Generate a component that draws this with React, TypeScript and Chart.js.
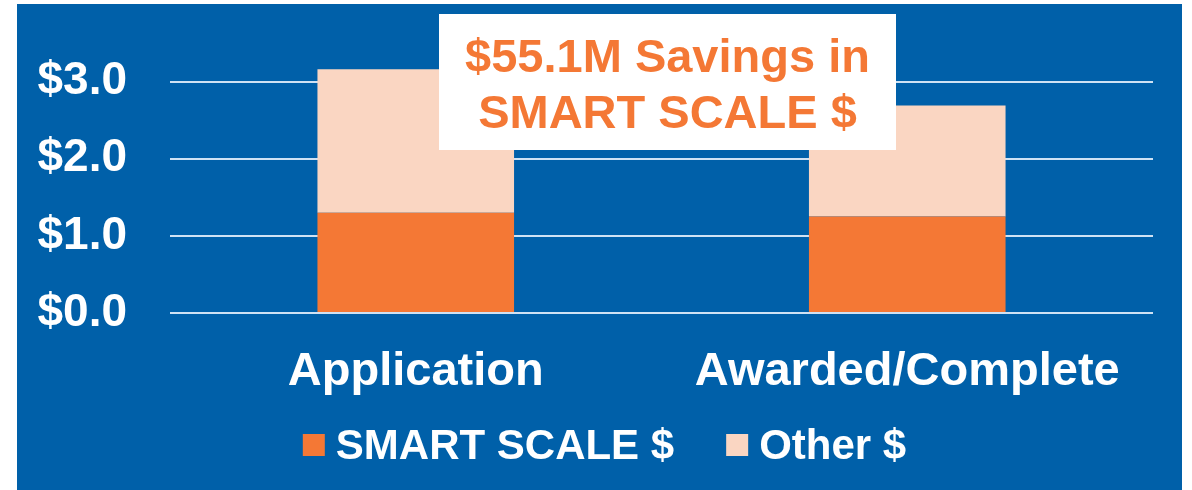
import React, { useEffect, useRef } from 'react';
import { Chart, registerables } from 'chart.js';

Chart.register(...registerables);

// ---- data ----
const categories = ['Application', 'Awarded/Complete'];
const seriesNames = ['SMART SCALE $', 'Other $'];
const smartScaleValues = [1.3, 1.25];
const otherValues = [1.86, 1.44];
const yTickValues = [0, 1, 2, 3];
const yTickLabels = ['$0.0', '$1.0', '$2.0', '$3.0'];
const calloutLines = ['$55.1M Savings in', 'SMART SCALE $'];

// ---- style ----
const BLUE = '#0060A9';
const ORANGE = '#F47835';
const PEACH = '#FAD6C2';
const GRID = '#CFE2F4';
const FONT = '"Liberation Sans", Arial, Helvetica, sans-serif';

const calloutPlugin = {
  id: 'callout',
  afterDraw(chart: any) {
    const ctx = chart.ctx;
    ctx.save();
    ctx.fillStyle = '#FFFFFF';
    ctx.fillRect(422, 10, 457, 136);
    ctx.fillStyle = ORANGE;
    ctx.font = `bold 47px ${FONT}`;
    ctx.textAlign = 'center';
    ctx.textBaseline = 'alphabetic';
    ctx.fillText(calloutLines[0], 650.5, 68);
    ctx.fillText(calloutLines[1], 650.5, 124);
    ctx.restore();
  },
};

const legendPlugin = {
  id: 'customLegend',
  afterDraw(chart: any) {
    const ctx = chart.ctx;
    const datasets = chart.data.datasets;
    const box = 22;
    const gap = 11;
    const itemGap = 52;
    ctx.save();
    ctx.font = `bold 42px ${FONT}`;
    const widths = datasets.map((d: any) => box + gap + ctx.measureText(d.label).width);
    const total = widths.reduce((a: number, b: number) => a + b, 0) + itemGap * (datasets.length - 1);
    let x = chart.width / 2 + 5 - total / 2;
    const baseline = 455;
    datasets.forEach((d: any, i: number) => {
      ctx.fillStyle = d.backgroundColor;
      ctx.fillRect(x, 430, box, box);
      ctx.fillStyle = '#FFFFFF';
      ctx.textAlign = 'left';
      ctx.textBaseline = 'alphabetic';
      ctx.fillText(d.label, x + box + gap, baseline);
      x += widths[i] + itemGap;
    });
    ctx.restore();
  },
};

export default function App() {
  const canvasRef = useRef<HTMLCanvasElement | null>(null);

  useEffect(() => {
    document.body.style.margin = '0';
    const canvas = canvasRef.current;
    if (!canvas) return;
    const chart = new Chart(canvas, {
      type: 'bar',
      data: {
        labels: categories,
        datasets: [
          {
            label: seriesNames[0],
            data: smartScaleValues,
            backgroundColor: ORANGE,
            borderWidth: 0,
            barPercentage: 0.4,
            categoryPercentage: 1,
          },
          {
            label: seriesNames[1],
            data: otherValues,
            backgroundColor: PEACH,
            borderWidth: 0,
            barPercentage: 0.4,
            categoryPercentage: 1,
          },
        ],
      },
      options: {
        responsive: false,
        animation: false,
        devicePixelRatio: 1,
        layout: { padding: { left: 20, right: 29, top: 39, bottom: 0 } },
        plugins: {
          legend: { display: false },
          tooltip: { enabled: false },
          title: { display: false },
        },
        scales: {
          x: {
            stacked: true,
            grid: { display: false, drawTicks: false },
            border: { display: false },
            ticks: {
              color: '#FFFFFF',
              font: { family: FONT, size: 47, weight: 'bold' },
              padding: 31,
              maxRotation: 0,
              autoSkip: false,
            },
            afterFit(scale: any) {
              scale.height = 177;
              scale.paddingLeft = 0;
              scale.paddingRight = 0;
            },
          },
          y: {
            stacked: true,
            min: 0,
            max: 3.5,
            grid: { color: GRID, lineWidth: 2, drawTicks: false },
            border: { display: false },
            ticks: {
              color: '#FFFFFF',
              font: { family: FONT, size: 46, weight: 'bold' },
              padding: 43,
              includeBounds: false,
              callback: (value: any) => {
                const i = yTickValues.indexOf(Number(value));
                return i >= 0 ? yTickLabels[i] : '';
              },
            },
            afterBuildTicks(scale: any) {
              scale.ticks = yTickValues.map((v) => ({ value: v }));
            },
            afterFit(scale: any) {
              scale.width = 133;
              scale.paddingTop = 0;
              scale.paddingBottom = 0;
            },
          },
        },
      },
      plugins: [calloutPlugin, legendPlugin],
    });
    return () => chart.destroy();
  }, []);

  return (
    <div style={{ position: 'relative', width: 1192, height: 490, background: '#FFFFFF', overflow: 'hidden' }}>
      <div style={{ position: 'absolute', left: 17, top: 4, width: 1165, height: 486, background: BLUE }}>
        <canvas ref={canvasRef} width={1165} height={486} style={{ display: 'block' }} />
      </div>
    </div>
  );
}
